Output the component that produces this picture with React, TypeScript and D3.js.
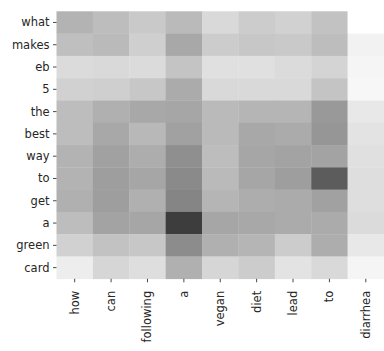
import React from "react";
import * as d3 from "d3";

// Query tokens (rows) and candidate tokens (columns)
const rowTokens = ["what", "makes", "eb", "5", "the", "best", "way", "to", "get", "a", "green", "card"];
const colTokens = ["how", "can", "following", "a", "vegan", "diet", "lead", "to", "diarrhea"];

// Attention weights, one array per row token
const wWhat = [0.30, 0.26, 0.21, 0.27, 0.15, 0.20, 0.18, 0.24, 0.0];
const wMakes = [0.25, 0.27, 0.19, 0.34, 0.20, 0.22, 0.21, 0.26, 0.05];
const wEb = [0.14, 0.15, 0.14, 0.23, 0.12, 0.12, 0.14, 0.17, 0.04];
const w5 = [0.18, 0.19, 0.22, 0.33, 0.15, 0.15, 0.15, 0.23, 0.03];
const wThe = [0.26, 0.31, 0.34, 0.35, 0.27, 0.29, 0.29, 0.40, 0.09];
const wBest = [0.26, 0.34, 0.28, 0.37, 0.27, 0.34, 0.33, 0.41, 0.11];
const wWay = [0.30, 0.37, 0.32, 0.44, 0.26, 0.35, 0.36, 0.36, 0.12];
const wTo = [0.30, 0.38, 0.35, 0.46, 0.27, 0.35, 0.38, 0.64, 0.13];
const wGet = [0.31, 0.38, 0.31, 0.48, 0.29, 0.32, 0.33, 0.37, 0.13];
const wA = [0.26, 0.36, 0.35, 0.76, 0.35, 0.34, 0.33, 0.33, 0.14];
const wGreen = [0.18, 0.24, 0.22, 0.45, 0.31, 0.29, 0.20, 0.32, 0.09];
const wCard = [0.07, 0.16, 0.13, 0.31, 0.16, 0.20, 0.11, 0.15, 0.04];

const weights = [wWhat, wMakes, wEb, w5, wThe, wBest, wWay, wTo, wGet, wA, wGreen, wCard];

const W = 384;
const H = 351;
const FONT = "DejaVu Sans, sans-serif";

export default function App() {
  const x = d3.scaleBand<string>().domain(colTokens).range([56.5, 384]);
  const y = d3.scaleBand<string>().domain(rowTokens).range([11.3, 278.8]);
  const color = d3
    .scaleLinear<string>()
    .domain([0, 1])
    .range(["#ffffff", "#000000"])
    .interpolate(d3.interpolateRgb);

  const cells = weights.flatMap((row, i) =>
    row.map((v, j) => ({ r: rowTokens[i], c: colTokens[j], v, key: `${i}-${j}` }))
  );

  const yBottom = y.range()[1];
  const xLeft = x.range()[0];

  return (
    <svg
      width={W}
      height={H}
      style={{ position: "absolute", left: 0, top: 0, background: "#fff" }}
    >
      <g>
        {cells.map((d) => (
          <rect
            key={d.key}
            x={x(d.c)}
            y={y(d.r)}
            width={x.bandwidth() + 0.3}
            height={y.bandwidth() + 0.3}
            fill={color(d.v)}
          />
        ))}
      </g>
      <g fontFamily={FONT} fontSize={11.5} fill="#262626">
        {rowTokens.map((t, i) => {
          const cy = (y(t) ?? 0) + y.bandwidth() / 2;
          return (
            <g key={`r${i}`}>
              <line x1={xLeft - 3.5} x2={xLeft} y1={cy} y2={cy} stroke="#333" strokeWidth={0.9} />
              <text x={xLeft - 7} y={cy} textAnchor="end" dominantBaseline="central">
                {t}
              </text>
            </g>
          );
        })}
        {colTokens.map((t, j) => {
          const cx = (x(t) ?? 0) + x.bandwidth() / 2;
          return (
            <g key={`c${j}`}>
              <line x1={cx} x2={cx} y1={yBottom} y2={yBottom + 3.5} stroke="#333" strokeWidth={0.9} />
              <text
                transform={`translate(${cx},${yBottom + 12}) rotate(-90)`}
                textAnchor="end"
                dominantBaseline="central"
              >
                {t}
              </text>
            </g>
          );
        })}
      </g>
    </svg>
  );
}
